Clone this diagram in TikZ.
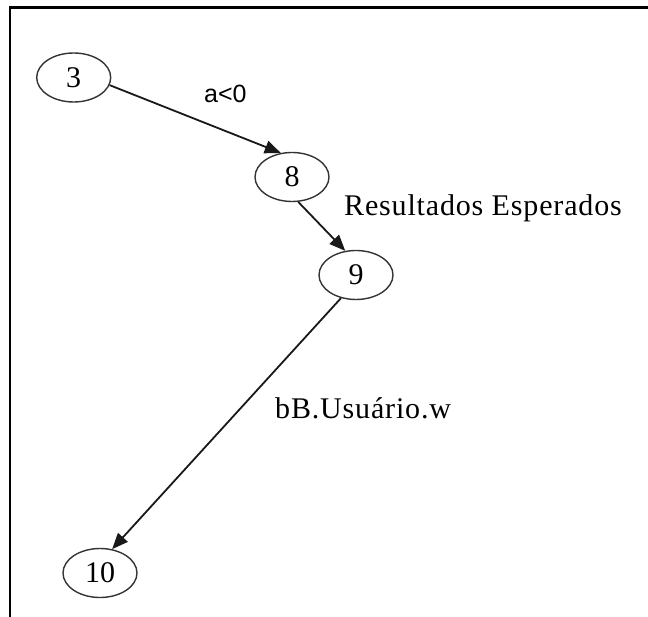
\documentclass[tikz,border=0pt]{standalone}
\usepackage{fontspec}
\setmainfont{Liberation Serif}
\newfontfamily\labsans{Liberation Sans}
\newfontfamily\labserif[LetterSpace=2.8]{Liberation Serif}
\usetikzlibrary{arrows.meta,shapes.geometric}
\begin{document}
\begin{tikzpicture}[x=1pt,y=-1pt,
  state/.style={draw=black!80, line width=1.4pt, ellipse, minimum width=74pt, minimum height=49pt, inner sep=0pt, font=\fontsize{30}{30}\selectfont},
  edge/.style={draw=black!90, line width=1.8pt, -{Triangle[length=16pt,width=13pt]}},
  lab/.style={anchor=base west, inner sep=0pt, font=\labserif\fontsize{30}{30}\selectfont},
  sanslab/.style={anchor=base west, inner sep=0pt, font=\labsans\fontsize{25}{25}\selectfont},
  frame/.style={line width=2.6pt}]
\useasboundingbox (0,0) rectangle (648,617);
\draw[frame] (10,617) -- (10,7.7) -- (648,7.7);
\node[state] (n3) at (73.7,77.5) {3};
\node[state] (n8) at (292,177) {8};
\node[state] (n9) at (356,275) {9};
\node[state] (n10) at (100,573) {10};
\draw[edge] (n3.-12) -- (n8.115);
\draw[edge] (n8.-76) -- (n9.114);
\draw[edge] (n9.-123) -- (n10.63);
\node[sanslab] (l1) at (204,103) {a<0};
\node[lab] (l2) at (344,216) {Resultados Esperados};
\node[lab] (l3) at (275,418) {bB.Usuário.w};
\end{tikzpicture}
\end{document}
